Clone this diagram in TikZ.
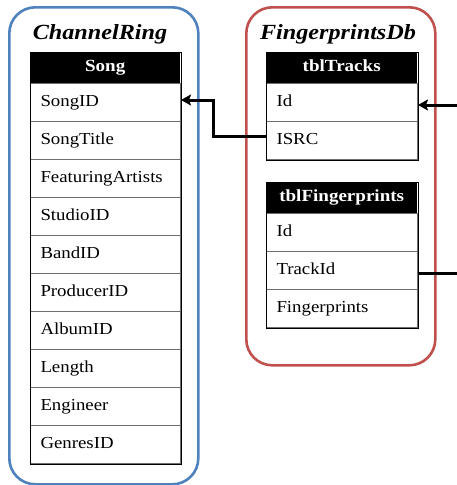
\documentclass[tikz,border=0pt]{standalone}
\usepackage{fontspec}
\setmainfont{Liberation Serif}[FakeStretch=1.12]
\usetikzlibrary{calc,arrows.meta}
\definecolor{ringblue}{RGB}{79,129,189}
\definecolor{dbred}{RGB}{192,80,77}
\definecolor{sepgray}{RGB}{110,110,110}
\begin{document}
\begin{tikzpicture}[x=1pt,y=-1pt,
  container/.style={line width=2.6pt,rounded corners=26pt,anchor=north west,inner sep=0pt},
  dbtitle/.style={anchor=base,inner sep=0pt,font=\bfseries\itshape\fontsize{21.6}{24}\selectfont},
  thead/.style={anchor=north west,fill=black,text=white,inner sep=0pt,minimum height=31pt,
    font=\bfseries\fontsize{17}{19}\selectfont,text height=11pt,text depth=3pt},
  trow/.style={anchor=north west,draw=sepgray,line width=1pt,inner ysep=0pt,inner xsep=10pt,
    minimum height=38pt,align=left,font=\fontsize{16.8}{19}\selectfont,text height=11pt,text depth=4pt},
  frame/.style={draw=black,line width=1pt},
  conn/.style={draw=black,line width=3pt},
  tip/.style={-{Stealth[length=10pt,width=11pt,inset=2pt]}}
]
\useasboundingbox (0,0) rectangle (456,485);
% containers
\node[container,draw=ringblue,minimum width=189pt,minimum height=477pt] (ring) at (8,6) {};
\node[container,draw=dbred,minimum width=189pt,minimum height=358pt] (fpdb) at (245,6) {};
\node[dbtitle] (ringtitle) at (100,39) {ChannelRing};
\node[dbtitle] (fptitle) at (338,39) {FingerprintsDb};
% Song table
\node[thead,minimum width=150pt] (shead) at (30,52) {Song};
\foreach \t [count=\i] in {SongID,SongTitle,FeaturingArtists,StudioID,BandID,ProducerID,AlbumID,Length,Engineer,GenresID}{
  \node[trow,text width=130pt] (s\i) at (30,{83+38*(\i-1)}) {\t};
}
\draw[frame] (shead.north west) rectangle (s10.south east);
% tblTracks
\node[thead,minimum width=151pt] (thead) at (266,52) {tblTracks};
\node[trow,text width=131pt] (tid) at (266,83) {Id};
\node[trow,text width=131pt] (isrc) at (266,121) {ISRC};
\draw[frame] (thead.north west) rectangle (isrc.south east);
% tblFingerprints
\node[thead,minimum width=151pt] (fhead) at (266,182) {tblFingerprints};
\node[trow,text width=131pt] (fid) at (266,213) {Id};
\node[trow,text width=131pt] (ftrack) at (266,251) {TrackId};
\node[trow,text width=131pt] (fprints) at (266,289) {Fingerprints};
\draw[frame] (fhead.north west) rectangle (fprints.south east);
% connectors
\draw[conn,tip] ($(isrc.west)+(0pt,4pt)$) -- ++(-53pt,0pt) |- ($(s1.east)+(0pt,2.5pt)$);
\draw[conn,tip] ($(ftrack.east)+(0pt,-2.5pt)$) -- ++(42pt,0pt) |- ($(tid.east)+(0pt,-2.5pt)$);
\end{tikzpicture}
\end{document}
